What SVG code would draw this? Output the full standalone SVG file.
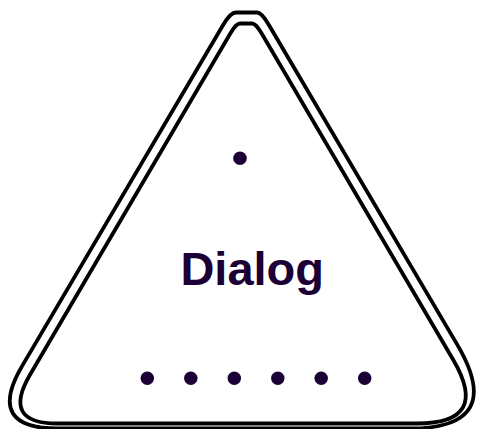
<svg xmlns="http://www.w3.org/2000/svg" width="479" height="429" viewBox="0 0 479 429">
<style>
.edge{fill:none;stroke:#000;stroke-width:3.8;stroke-linejoin:round}
.dot{fill:#1b0036}
.lbl{font-family:"Liberation Sans",Arial,sans-serif;font-weight:bold;font-size:47px;fill:#1b0036;text-anchor:middle}
</style>
<rect width="479" height="429" fill="#fff"/>
<g id="dialog">
<path class="edge" d="M236,12.5 L257,12.5 Q261.7,12.5 268.9,25 L457.4,344.9 Q506.5,428.5 409,428.5 L58,428.5 Q-14.5,428.5 21.9,366.4 L223.1,25 Q230.3,12.5 236,12.5 Z"/>
<path class="edge" d="M240,23.5 L252,23.5 Q255.8,23.5 261.4,33 L453.2,359.7 Q490.6,423.5 417,423.5 L57.5,423.5 Q1.4,423.5 30,374.8 L230.6,33 Q236.2,23.5 240,23.5 Z"/>
<circle class="dot" cx="240" cy="158.3" r="6.8"/>
<text class="lbl" x="252.2" y="285">Dialog</text>
<circle class="dot" cx="147.3" cy="378.3" r="6.7"/>
<circle class="dot" cx="190.8" cy="378.3" r="6.7"/>
<circle class="dot" cx="234.3" cy="378.3" r="6.7"/>
<circle class="dot" cx="277.8" cy="378.3" r="6.7"/>
<circle class="dot" cx="321.2" cy="378.3" r="6.7"/>
<circle class="dot" cx="364.7" cy="378.3" r="6.7"/>
</g>
</svg>
